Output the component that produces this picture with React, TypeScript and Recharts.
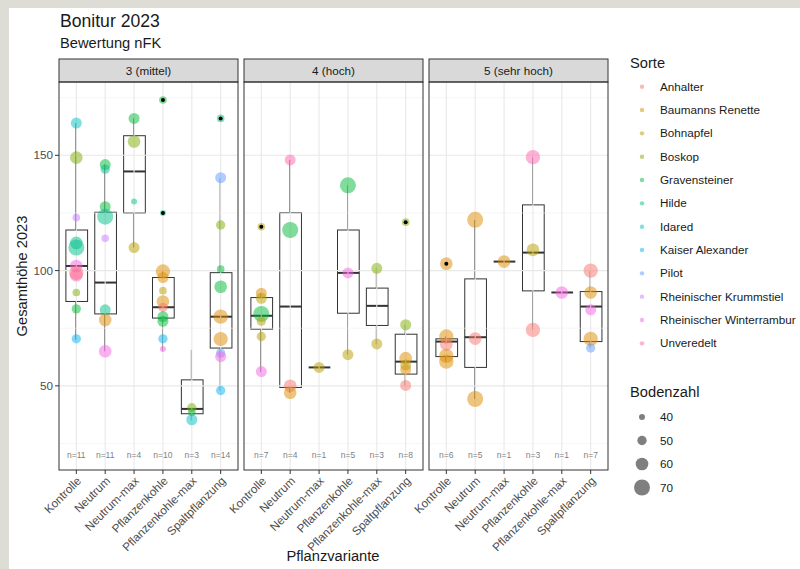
import { ComposedChart, XAxis, YAxis, Bar, Scatter, ReferenceLine } from 'recharts';

const variants = ['Kontrolle', 'Neutrum', 'Neutrum-max', 'Pflanzenkohle', 'Pflanzenkohle-max', 'Spaltpflanzung'];
const facets = ['3 (mittel)', '4 (hoch)', '5 (sehr hoch)'];
const sorten = [
  'Anhalter', 'Baumanns Renette', 'Bohnapfel', 'Boskop', 'Gravensteiner', 'Hilde', 'Idared',
  'Kaiser Alexander', 'Pilot', 'Rheinischer Krummstiel', 'Rheinischer Winterrambur', 'Unveredelt',
];
const sortenColors = [
  '#F8766D', '#DE8C00', '#B79F00', '#7CAE00', '#00BA38', '#00C08B', '#00BFC4',
  '#00B4F0', '#619CFF', '#C77CFF', '#F564E3', '#FF64B0',
];
const bodenzahlLevels = [40, 50, 60, 70];
const yTicks = [50, 100, 150];

// [untere Whisker, Q1, Median, Q3, obere Whisker] je Pflanzvariante
const boxMittel = [
  [70, 86.6, 102, 117.6, 164],
  [65, 81.2, 94.8, 125.3, 146],
  [110, 125, 143, 158.5, 166],
  [65, 79.4, 84.1, 97, 100],
  [35, 37.9, 40, 52.6, 65.6],
  [48, 66.4, 80, 99.1, 140],
];
const boxHoch = [
  [56, 74.6, 80.4, 88.3, 90],
  [47, 49.3, 84.4, 125.1, 148],
  [58, 58, 58, 58, 58],
  [63.5, 81.5, 99, 117.6, 137],
  [68, 76.2, 84.7, 92.4, 101],
  [50, 55.1, 60.5, 72.4, 76.5],
];
const boxSehrHoch = [
  [60.5, 62.7, 69.2, 70.4, 71.4],
  [44.3, 58, 71.1, 96.4, 122],
  [103.9, 103.9, 103.9, 103.9, 103.9],
  [74.3, 91.2, 107.8, 128.5, 149.2],
  [90.5, 90.5, 90.5, 90.5, 90.5],
  [66.4, 69.2, 84.4, 90.9, 100],
];

// [Variante, Gesamthöhe, Sorte, Bodenzahl]
const pointsMittel = [
  [0, 164, 6, 55], [0, 149, 3, 60], [0, 123, 9, 45], [0, 112, 5, 60], [0, 110, 5, 70],
  [0, 102, 10, 60], [0, 99, 0, 65], [0, 98, 11, 60], [0, 90.5, 3, 45], [0, 83.4, 4, 50], [0, 70.4, 7, 50],
  [1, 146, 4, 55], [1, 144, 5, 50], [1, 127.7, 4, 55], [1, 123.4, 5, 70], [1, 114, 9, 45],
  [1, 83, 5, 55], [1, 78.6, 1, 60], [1, 65, 10, 60],
  [2, 166, 4, 55], [2, 156, 3, 60], [2, 130, 5, 40], [2, 110, 2, 55],
  [3, 174, 4, 45], [3, 125, 5, 40], [3, 99.6, 1, 65], [3, 97, 1, 55], [3, 91.3, 2, 45], [3, 86.6, 1, 60],
  [3, 84, 0, 50], [3, 80, 4, 55], [3, 78, 4, 55], [3, 70.4, 7, 50], [3, 66, 10, 40],
  [4, 40.5, 3, 50], [4, 38.5, 4, 45], [4, 35.3, 6, 55],
  [5, 166, 5, 45], [5, 140.3, 8, 55], [5, 119.8, 3, 50], [5, 100.7, 4, 45], [5, 93, 4, 60],
  [5, 80, 1, 65], [5, 70.3, 1, 65], [5, 64.2, 8, 50], [5, 62.7, 10, 55], [5, 48, 7, 50],
];
const pointsHoch = [
  [0, 119, 2, 45], [0, 90.2, 1, 55], [0, 88, 2, 55], [0, 81.2, 4, 70], [0, 78, 2, 50], [0, 71.4, 2, 50], [0, 56.2, 10, 55],
  [1, 148, 11, 55], [1, 117.6, 4, 70], [1, 50, 0, 60], [1, 47, 1, 60],
  [2, 58, 2, 55],
  [3, 137, 4, 70], [3, 99, 10, 55], [3, 63.5, 2, 55],
  [4, 101, 3, 55], [4, 68.2, 2, 55],
  [5, 121, 3, 45], [5, 76.5, 3, 55], [5, 62, 1, 60], [5, 59, 2, 55], [5, 57, 1, 55], [5, 50.2, 0, 55],
];
const pointsSehrHoch = [
  [0, 103, 1, 60], [0, 71.4, 1, 65], [0, 68, 0, 60], [0, 63, 1, 65], [0, 60.5, 1, 65],
  [1, 122, 1, 70], [1, 70.5, 0, 60], [1, 44.3, 1, 70],
  [2, 103.9, 1, 60],
  [3, 149.2, 11, 65], [3, 109, 2, 60], [3, 74.3, 0, 65],
  [4, 90.5, 10, 60],
  [5, 100, 0, 65], [5, 90.5, 1, 60], [5, 83, 10, 55], [5, 70.4, 1, 65], [5, 66.4, 8, 50],
];

// Ausreißer der Boxplots [Variante, Gesamthöhe]
const outliersMittel = [[3, 174], [3, 125], [5, 166]];
const outliersHoch = [[0, 119], [5, 121]];
const outliersSehrHoch = [[0, 103]];

const nMittel = [11, 11, 4, 10, 3, 14];
const nHoch = [7, 4, 1, 5, 3, 8];
const nSehrHoch = [6, 5, 1, 3, 1, 7];

const panels = [
  { boxes: boxMittel, points: pointsMittel, outliers: outliersMittel, counts: nMittel },
  { boxes: boxHoch, points: pointsHoch, outliers: outliersHoch, counts: nHoch },
  { boxes: boxSehrHoch, points: pointsSehrHoch, outliers: outliersSehrHoch, counts: nSehrHoch },
];

const FONT = '"Liberation Sans", Arial, Helvetica, sans-serif';
const PANEL_LEFT = [59, 244, 429];
const PANEL_W = 179;
const PANEL_TOP = 82;
const PANEL_H = 388;
const LEFT_OFF = 55;
const X_DOMAIN = [0.4, 6.6];
const X_TICKS = [1, 2, 3, 4, 5, 6];
const Y_DOMAIN = [13.5, 181.8];

const radius = (bz: number) => 3 + ((bz - 40) / 30) * 5;

function RotTick(props: any) {
  const { x, y, payload } = props;
  return (
    <text
      x={x}
      y={y}
      dy={8}
      transform={`rotate(-45 ${x} ${y})`}
      textAnchor="end"
      fontSize={11.7}
      fill="#4d4d4d"
      fontFamily={FONT}
    >
      {variants[payload.value - 1]}
    </text>
  );
}

function BoxShape(props: any) {
  const { x, y, width, height } = props;
  const top = Math.min(y, y + height);
  return <rect x={x} y={top} width={width} height={Math.abs(height)} fill="#fff" stroke="#333" strokeWidth={1} />;
}

function WhiskerShape(props: any) {
  const { x, y, width, height } = props;
  const cx = x + width / 2;
  return <line x1={cx} x2={cx} y1={y} y2={y + height} stroke="#333" strokeWidth={1} />;
}

function MedianShape(props: any) {
  const { x, y, width } = props;
  return <line x1={x} x2={x + width} y1={y} y2={y} stroke="#333" strokeWidth={2} />;
}

function PointShape(props: any) {
  const { cx, cy, payload } = props;
  return <circle cx={cx} cy={cy} r={payload.r} fill={payload.fill} fillOpacity={0.5} />;
}

function OutlierShape(props: any) {
  const { cx, cy } = props;
  return <circle cx={cx} cy={cy} r={2} fill="#000" />;
}

function CountShape(props: any) {
  const { cx, cy, payload } = props;
  return (
    <text x={cx} y={cy} dy={3} textAnchor="middle" fontSize={8.5} fill="#7f7f7f" fontFamily={FONT}>
      {payload.label}
    </text>
  );
}

function Panel({ index }: { index: number }) {
  const p = panels[index];
  const rows = p.boxes.map((b, i) => ({
    x: i + 1,
    whisker: [b[0], b[4]],
    box: [b[1], b[3]],
    med: [b[2], b[2]],
  }));
  const pts = p.points.map((d) => ({ x: d[0] + 1, y: d[1], fill: sortenColors[d[2]], r: radius(d[3]) }));
  const outs = p.outliers.map((d) => ({ x: d[0] + 1, y: d[1] }));
  const counts = p.counts.map((n, i) => ({ x: i + 1, y: 20, label: `n=${n}` }));
  const first = index === 0;
  return (
    <div style={{ position: 'absolute', left: PANEL_LEFT[index] - LEFT_OFF, top: PANEL_TOP - 10 }}>
      <ComposedChart
        width={LEFT_OFF + PANEL_W + 10}
        height={10 + PANEL_H + 95}
        data={rows}
        margin={{ top: 10, right: 10, bottom: 0, left: first ? 5 : LEFT_OFF }}
      >
        <XAxis
          xAxisId="main"
          dataKey="x"
          type="number"
          domain={X_DOMAIN}
          ticks={X_TICKS}
          allowDataOverflow
          interval={0}
          height={95}
          axisLine={false}
          tickLine={{ stroke: '#333' }}
          tickSize={4}
          tick={<RotTick />}
        />
        <XAxis xAxisId="w" dataKey="x" type="number" domain={X_DOMAIN} ticks={X_TICKS} allowDataOverflow height={0} hide />
        <XAxis xAxisId="m" dataKey="x" type="number" domain={X_DOMAIN} ticks={X_TICKS} allowDataOverflow height={0} hide />
        <YAxis
          dataKey="y"
          type="number"
          domain={Y_DOMAIN}
          ticks={yTicks}
          allowDataOverflow
          width={50}
          hide={!first}
          axisLine={false}
          tickLine={{ stroke: '#333' }}
          tickSize={4}
          tick={{ fontSize: 11.7, fill: '#4d4d4d', fontFamily: FONT }}
        />
        {[25, 75, 125, 175].map((v) => (
          <ReferenceLine key={`mi${v}`} xAxisId="main" y={v} stroke="#f0f0f0" strokeWidth={0.6} />
        ))}
        {yTicks.map((v) => (
          <ReferenceLine key={`ma${v}`} xAxisId="main" y={v} stroke="#e8e8e8" strokeWidth={1.1} />
        ))}
        {X_TICKS.map((v) => (
          <ReferenceLine key={`vx${v}`} xAxisId="main" x={v} stroke="#e8e8e8" strokeWidth={1.1} />
        ))}
        <Bar xAxisId="w" dataKey="whisker" barSize={2} shape={<WhiskerShape />} isAnimationActive={false} />
        <Bar xAxisId="main" dataKey="box" barSize={21.7} shape={<BoxShape />} isAnimationActive={false} />
        <Bar xAxisId="m" dataKey="med" barSize={21.7} shape={<MedianShape />} isAnimationActive={false} />
        <Scatter xAxisId="main" data={counts} dataKey="y" shape={<CountShape />} isAnimationActive={false} />
        <Scatter xAxisId="main" data={pts} dataKey="y" shape={<PointShape />} isAnimationActive={false} />
        <Scatter xAxisId="main" data={outs} dataKey="y" shape={<OutlierShape />} isAnimationActive={false} />
      </ComposedChart>
    </div>
  );
}

export default function App() {
  return (
    <div style={{ position: 'absolute', left: 0, top: 0, width: 800, height: 569, background: '#dddcd5', fontFamily: FONT }}>
      <div style={{ position: 'absolute', left: 9, top: 8, width: 791, height: 561, background: '#fff' }} />
      {[0, 1, 2].map((i) => (
        <Panel key={i} index={i} />
      ))}
      <svg width={800} height={569} style={{ position: 'absolute', left: 0, top: 0, pointerEvents: 'none' }}>
        <text x={60} y={27} fontSize={17.6} fill="#1a1a1a" fontFamily={FONT}>Bonitur 2023</text>
        <text x={60} y={48} fontSize={14.7} fill="#1a1a1a" fontFamily={FONT}>Bewertung nFK</text>
        {facets.map((f, i) => (
          <g key={f}>
            <rect x={PANEL_LEFT[i]} y={59} width={PANEL_W} height={PANEL_TOP - 59} fill="#d9d9d9" stroke="#333" strokeWidth={1} />
            <text
              x={PANEL_LEFT[i] + PANEL_W / 2}
              y={74.5}
              textAnchor="middle"
              fontSize={11.7}
              fill="#1a1a1a"
              fontFamily={FONT}
            >
              {f}
            </text>
            <rect x={PANEL_LEFT[i]} y={PANEL_TOP} width={PANEL_W} height={PANEL_H} fill="none" stroke="#333" strokeWidth={1} />
          </g>
        ))}
        <text
          x={27}
          y={276}
          transform="rotate(-90 27 276)"
          textAnchor="middle"
          fontSize={14.7}
          fill="#1a1a1a"
          fontFamily={FONT}
        >
          Gesamthöhe 2023
        </text>
        <text x={333} y={561} textAnchor="middle" fontSize={14.7} fill="#1a1a1a" fontFamily={FONT}>
          Pflanzvariante
        </text>
        <text x={630} y={68} fontSize={14.7} fill="#1a1a1a" fontFamily={FONT}>Sorte</text>
        {sorten.map((s, i) => (
          <g key={s}>
            <circle cx={642} cy={86.7 + i * 23.33} r={2.2} fill={sortenColors[i]} fillOpacity={0.5} />
            <text x={660} y={86.7 + i * 23.33 + 4} fontSize={11.7} fill="#1a1a1a" fontFamily={FONT}>{s}</text>
          </g>
        ))}
        <text x={630} y={397} fontSize={14.7} fill="#1a1a1a" fontFamily={FONT}>Bodenzahl</text>
        {bodenzahlLevels.map((b, i) => (
          <g key={b}>
            <circle cx={642} cy={417 + i * 23.5} r={radius(b)} fill="#000" fillOpacity={0.5} />
            <text x={660} y={417 + i * 23.5 + 4} fontSize={11.7} fill="#1a1a1a" fontFamily={FONT}>{b}</text>
          </g>
        ))}
      </svg>
    </div>
  );
}
